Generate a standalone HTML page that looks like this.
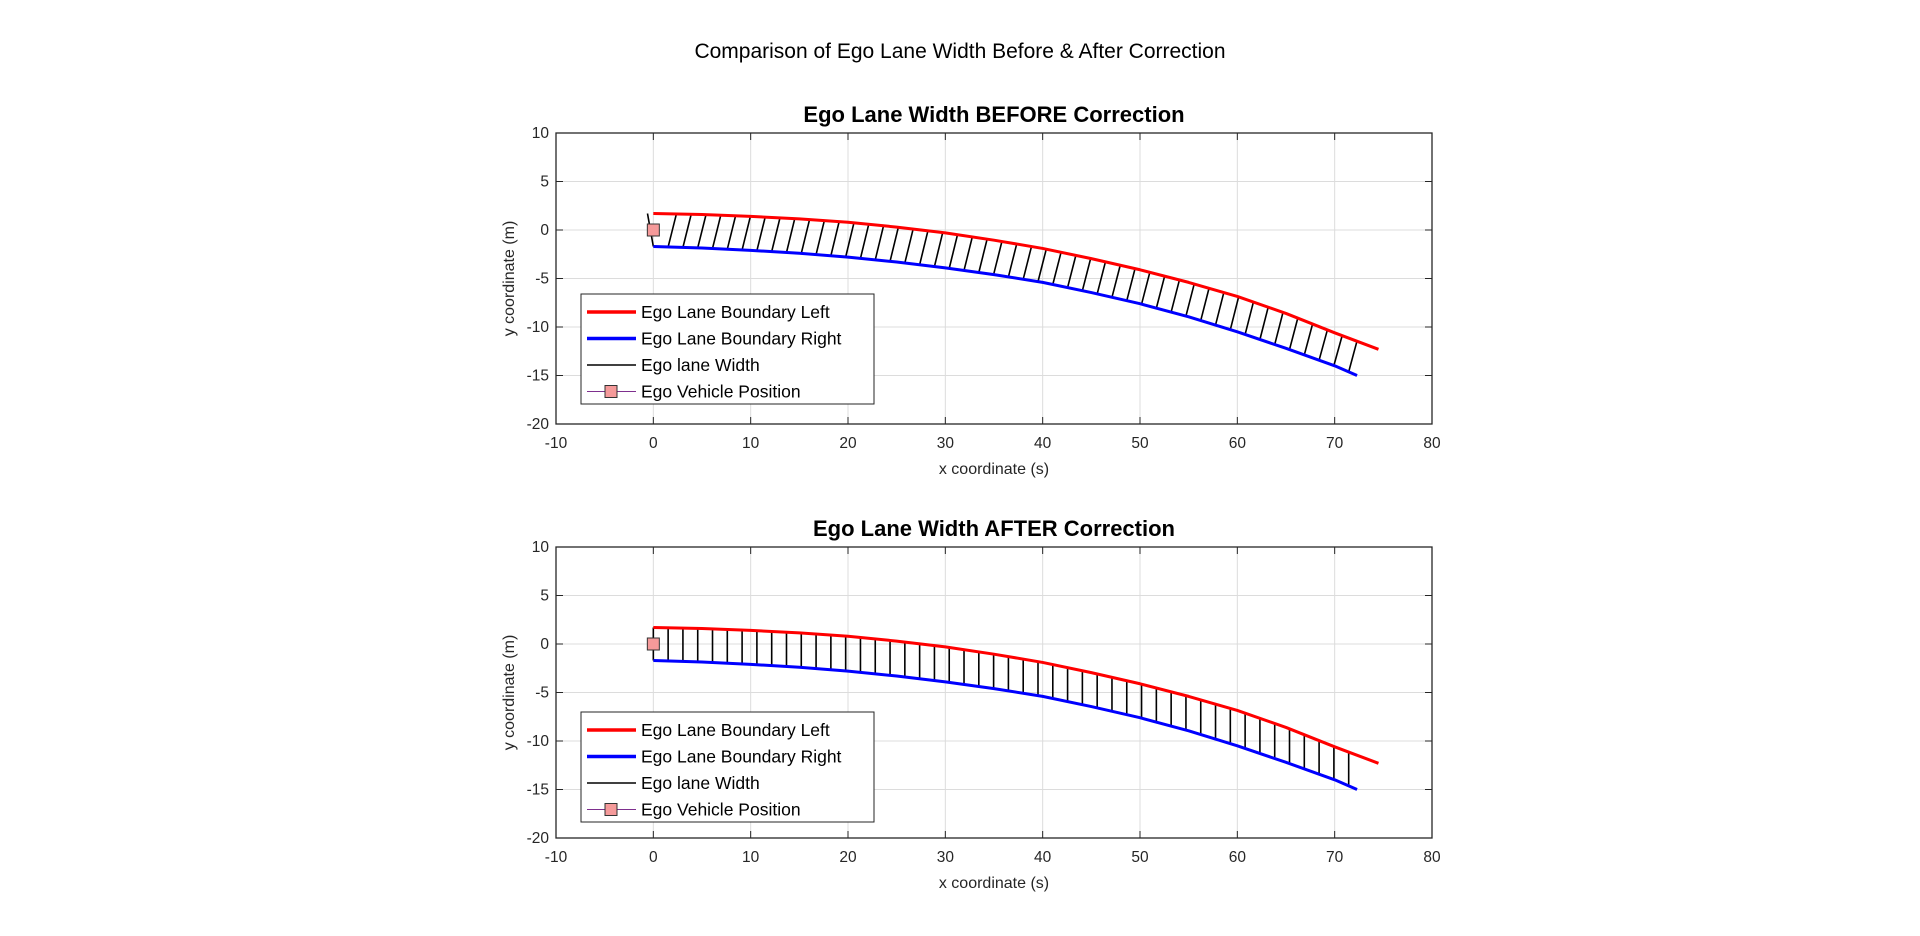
<!DOCTYPE html>
<html><head><meta charset="utf-8"><style>
html,body{margin:0;padding:0;background:#fff;}
svg{display:block;font-family:"Liberation Sans",Arial,sans-serif;}
</style></head><body>
<svg id="fig" width="1920" height="936" viewBox="0 0 1920 936">
<text x="960" y="58" text-anchor="middle" font-size="21" fill="#000">Comparison of Ego Lane Width Before &amp; After Correction</text>
</svg>
<script>
const boundaryX = [0, 5, 10, 15, 20, 25, 30, 35, 40, 45, 50, 55, 60, 65, 70];
const leftY = [1.7, 1.6, 1.4, 1.15, 0.8, 0.3, -0.3, -1.05, -1.9, -2.95, -4.1, -5.4, -6.85, -8.6, -10.6];
const leftEnd = [74.5, -12.3];
const rightY = [-1.7, -1.85, -2.1, -2.4, -2.8, -3.3, -3.9, -4.6, -5.4, -6.45, -7.6, -8.95, -10.5, -12.2, -14.0];
const rightEnd = [72.3, -15.0];
const hatchStep = 1.52;
const hatchCount = 48;
const beforeSkew = 0.85;
const egoPos = [0, 0];
const xTicks = [-10, 0, 10, 20, 30, 40, 50, 60, 70, 80];
const yTicks = [10, 5, 0, -5, -10, -15, -20];
const titles = ["Ego Lane Width BEFORE Correction", "Ego Lane Width AFTER Correction"];
const legendLabels = ["Ego Lane Boundary Left", "Ego Lane Boundary Right", "Ego lane Width", "Ego Vehicle Position"];

const NS = "http://www.w3.org/2000/svg";
const svg = document.getElementById('fig');
function mk(tag, attrs, parent){const e=document.createElementNS(NS,tag);for(const k in attrs)e.setAttribute(k,attrs[k]);(parent||svg).appendChild(e);return e;}
function interp(xs, ys, x){
  if(x<=xs[0]) return ys[0];
  for(let i=1;i<xs.length;i++){ if(x<=xs[i]){const t=(x-xs[i-1])/(xs[i]-xs[i-1]);return ys[i-1]+t*(ys[i]-ys[i-1]);} }
  const n=xs.length; return ys[n-2]+(x-xs[n-2])/(xs[n-1]-xs[n-2])*(ys[n-1]-ys[n-2]);
}
const LX = boundaryX.concat([leftEnd[0]]), LY = leftY.concat([leftEnd[1]]);
const RX = boundaryX.concat([rightEnd[0]]), RY = rightY.concat([rightEnd[1]]);

function drawPanel(idx, top, bottom){
  const left=556, right=1432;
  const sx = v => left + (v - xTicks[0])/(xTicks[xTicks.length-1]-xTicks[0])*(right-left);
  const sy = v => bottom - (v - yTicks[yTicks.length-1])/(yTicks[0]-yTicks[yTicks.length-1])*(bottom-top);
  const g = mk('g',{});
  
  
  mk('rect',{x:left,y:top,width:right-left,height:bottom-top,fill:'#fff'},g);
  xTicks.forEach(t=>{
    const X=sx(t);
    const gl=mk('line',{x1:X,x2:X,y1:top,y2:bottom,stroke:'#dcdcdc','stroke-width':1},g);
     
    mk('line',{x1:X,x2:X,y1:bottom,y2:bottom-7,stroke:'#262626'},g);
    mk('line',{x1:X,x2:X,y1:top,y2:top+7,stroke:'#262626'},g);
    const tl=mk('text',{x:X,y:bottom+24,'text-anchor':'middle','font-size':15.5,fill:'#262626'},g); tl.textContent=t;
     
  });
  yTicks.forEach(t=>{
    const Y=sy(t);
    const gl=mk('line',{x1:left,x2:right,y1:Y,y2:Y,stroke:'#dcdcdc','stroke-width':1},g);
     
    mk('line',{x1:left,x2:left+7,y1:Y,y2:Y,stroke:'#262626'},g);
    mk('line',{x1:right,x2:right-7,y1:Y,y2:Y,stroke:'#262626'},g);
    const tl=mk('text',{x:left-7,y:Y+5,'text-anchor':'end','font-size':15.5,fill:'#262626'},g); tl.textContent=t;
     
  });
  for(let i=0;i<hatchCount;i++){
    const xb=i*hatchStep;
    if(xb>rightEnd[0]+0.01) break;
    let xt = idx===0 ? xb+beforeSkew : xb;
    if(idx===0 && i===0) xt = -0.6;
    const l=mk('line',{x1:sx(xt),y1:sy(interp(LX,LY,xt)),x2:sx(xb),y2:sy(interp(RX,RY,xb)),stroke:'#000','stroke-width':1.6},g);
     
  }
  const pl=mk('polyline',{points:LX.map((x,i)=>sx(x)+','+sy(LY[i])).join(' '),fill:'none',stroke:'#ff0000','stroke-width':3,'stroke-linejoin':'round'},g);
   
  const pr=mk('polyline',{points:RX.map((x,i)=>sx(x)+','+sy(RY[i])).join(' '),fill:'none',stroke:'#0000ff','stroke-width':3,'stroke-linejoin':'round'},g);
   
  const m=mk('rect',{x:sx(egoPos[0])-6,y:sy(egoPos[1])-6,width:12,height:12,fill:'#f59a9a',stroke:'#333','stroke-width':1},g);
   
  mk('rect',{x:left,y:top,width:right-left,height:bottom-top,fill:'none',stroke:'#262626','stroke-width':1.3},g);
  const tt=mk('text',{x:(left+right)/2,y:top-11,'text-anchor':'middle','font-size':22,'font-weight':'bold',fill:'#000'},g); tt.textContent=titles[idx];
   
  const xl=mk('text',{x:(left+right)/2,y:bottom+50,'text-anchor':'middle','font-size':16,fill:'#262626'},g); xl.textContent='x coordinate (s)';
   
  const cy=(top+bottom)/2;
  const yl=mk('text',{x:514,y:cy,'text-anchor':'middle','font-size':16,fill:'#262626',transform:'rotate(-90 514 '+cy+')'},g); yl.textContent='y coordinate (m)';
   
  const lt = top + (idx===0?161:165);
  const lg=mk('g',{},g);
   
  mk('rect',{x:581,y:lt,width:293,height:110,fill:'#fff',stroke:'#262626','stroke-width':1},lg);
  const colors=['#ff0000','#0000ff','#000','#7e2f8e'], widths=[3.5,3.5,1.6,1];
  legendLabels.forEach((lab,i)=>{
    const y=lt+18+i*26.5;
    const e=mk('g',{},lg);
     
    mk('line',{x1:587,x2:636,y1:y,y2:y,stroke:colors[i],'stroke-width':widths[i]},e);
    if(i===3) mk('rect',{x:605,y:y-6,width:12,height:12,fill:'#f59a9a',stroke:'#333'},e);
    const t=mk('text',{x:641,y:y+6,'font-size':17.5,fill:'#000'},e); t.textContent=lab;
  });
}
drawPanel(0,133,424);
drawPanel(1,547,838);
</script>
</body></html>
